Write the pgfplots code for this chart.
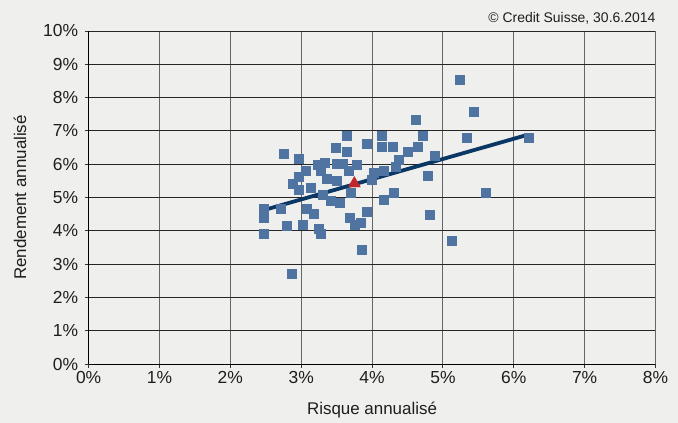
\documentclass[border=0pt]{standalone}
\usepackage{pgfplots}
\pgfplotsset{compat=1.18}
\usepackage{fontspec}
\setmainfont{Liberation Sans}
\definecolor{bgc}{RGB}{239,239,237}
\definecolor{sq}{RGB}{79,116,162}
\definecolor{navy}{RGB}{10,55,100}
\definecolor{tri}{RGB}{192,39,45}
\definecolor{txt}{RGB}{30,30,30}
\pgfplotstableread{
x y
5.23 8.55
5.43 7.58
4.61 7.34
5.34 6.80
6.21 6.80
4.72 6.86
4.13 6.86
4.13 6.53
4.29 6.53
4.65 6.53
4.51 6.38
4.38 6.14
4.89 6.26
4.34 5.92
4.16 5.79
4.78 5.66
4.31 5.14
5.60 5.14
4.17 4.93
4.81 4.48
5.13 3.70
2.47 4.65
2.47 4.39
2.47 3.92
2.71 4.66
2.80 4.14
3.02 4.18
3.08 4.66
3.18 4.52
3.25 4.06
3.28 3.91
2.87 2.70
3.85 3.42
3.69 4.39
3.75 4.18
3.84 4.25
3.93 4.57
3.54 4.84
3.42 4.91
3.30 5.08
3.14 5.29
2.97 5.23
2.97 5.63
2.88 5.41
3.06 5.79
3.27 5.80
3.36 5.56
3.50 5.50
3.70 5.14
3.67 5.79
4.03 5.75
3.99 5.54
2.76 6.32
2.97 6.18
3.48 6.50
3.64 6.86
3.64 6.38
3.93 6.62
3.23 5.99
3.33 6.05
3.50 6.02
3.59 6.02
3.78 5.99
}\pts
\begin{document}
\begin{tikzpicture}
\path[use as bounding box, fill=bgc] (-88.6bp,-59bp) rectangle (589.4bp,364bp);
\begin{axis}[
  at={(0,0)}, anchor=south west,
  scale only axis, width=566.9bp, height=333bp,
  xmin=0, xmax=8, ymin=0, ymax=10,
  xtick={0,1,...,8}, ytick={0,1,...,10},
  axis lines*=left,
  axis line style={black, line width=1bp},
  tick align=outside, major tick length=4bp,
  tick style={black!80, line width=0.9bp},
  grid=major,
  x grid style={black!60, line width=1bp},
  y grid style={black!85, line width=0.9bp},
  /pgf/number format/assume math mode=true,
  xticklabel={\pgfmathprintnumber{\tick}\%},
  yticklabel={\pgfmathprintnumber{\tick}\%},
  tick label style={font=\fontsize{17.5}{20}\selectfont, text=txt},
  yticklabel style={xshift=-3bp},
  xlabel={Risque annualisé},
  ylabel={Rendement annualisé},
  label style={font=\fontsize{17}{20}\selectfont, text=txt},
  x label style={at={(axis description cs:0.5,-0.138)}, anchor=center},
  y label style={at={(axis description cs:-0.121,0.5)}, anchor=center, rotate=0},
  clip=false,
]
\addplot[only marks, mark=square*, mark size=4.5bp, color=sq] table[x=x,y=y] {\pts};
\addplot[navy, line width=3.8bp] coordinates {(2.47,4.62) (6.19,6.88)};
\addplot[only marks, mark=triangle*, mark size=7bp, color=tri] coordinates {(3.75,5.42)};
\end{axis}
\node[anchor=east, font=\fontsize{14}{16}\selectfont, text=txt, inner sep=0pt] at (566.9bp,346bp) {© Credit Suisse, 30.6.2014};
\end{tikzpicture}
\end{document}
